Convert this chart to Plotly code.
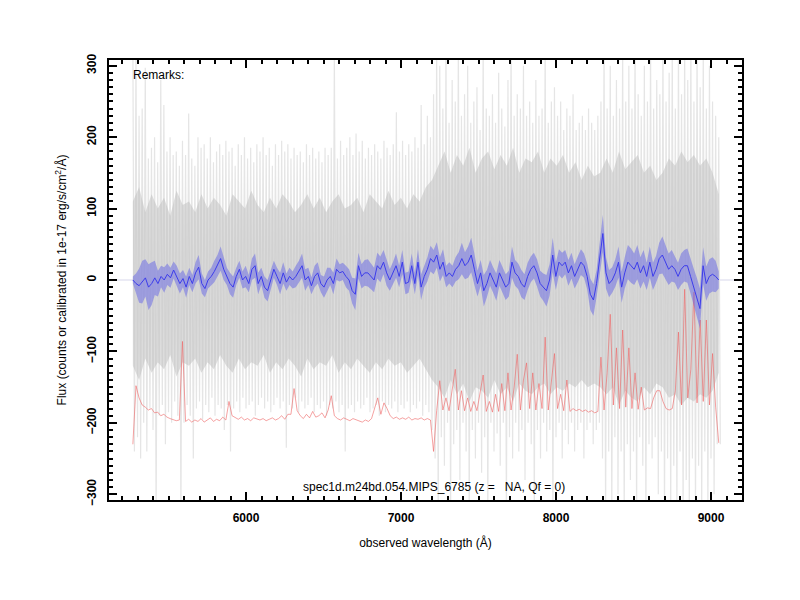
import numpy as np
import plotly.graph_objects as go

# smoothed spectrum (blue line) and its 1-sigma half width
blue_flux = [0, -5, -8, -3, 3, -10, -5, 3, -5, 5,
             0, 8, 3, 14, 5, -5, 2, -10, 5, -5,
             10, 18, -5, -12, 0, 5, 12, 20, 30, 15,
             5, -5, -10, 5, 15, 0, 5, -5, 15, 20,
             -5, 5, -10, -15, 0, 15, 5, -5, 10, -3,
             5, 0, 5, 12, 20, 0, 5, -8, 5, 10,
             -5,
             -10, 0, 5, -5, 15, 10, 12, 5, 0, -15,
             -20, 20, 5, 10, 10, 5, 0, 20, 15, 25,
             10, 0, 10, 20, 5, 25, -5, -3, 20, -5,
             25, -10, 5, 15, 30, 25, 35, 15, 25, 5,
             10, 5, 15, 20, 30, 20, 25, 35, 15, -5,
             10, -15, -5, 10, 0, -10, 10, 0, -10, -5,
             25, 10,
             5, -5, -10, 5, 15, 20, 10, -5, -10, -15,
             0, 35, 5, 25, 20, 25, 10, 20, 5, 15,
             25, 20, 5, -20, -28, -5, 30, 65, 10, -5,
             0, 10, 25, -10, 10, 25, 20, 15, 25, 10,
             20, 5, 25, 5, 15, 30, 35, 25, 15, 20,
             15, 5, 15, 20, 20, 5, -10, -25, -40, 20,
             -5, 5, 8, 5, 0]
blue_err = [5, 14, 24, 30, 26, 32, 30, 24, 18, 15,
            18, 15, 14, 12, 15, 14, 12, 15, 12, 12,
            15, 17, 14, 12, 12, 12, 15, 15, 17, 15,
            12, 15, 15, 12, 12, 12, 15, 12, 15, 17,
            15, 12, 15, 15, 12, 12, 12, 15, 15, 12,
            12, 12, 15, 15, 17, 15, 12, 12, 15, 15,
            12,
            15, 17, 12, 15, 15, 12, 12, 15, 15, 18,
            22, 18, 17, 18, 19, 18, 17, 18, 18, 17,
            18, 15, 15, 17, 15, 17, 15, 15, 17, 15,
            18, 18, 15, 17, 18, 17, 18, 17, 18, 15,
            15, 15, 17, 19, 22, 19, 22, 24, 22, 18,
            18, 22, 19, 18, 18, 19, 18, 17, 18, 18,
            22, 18,
            18, 19, 18, 19, 18, 18, 19, 18, 19, 22,
            22, 24, 19, 18, 18, 17, 18, 18, 17, 18,
            18, 17, 18, 22, 22, 19, 22, 26, 22, 19,
            18, 19, 22, 22, 22, 24, 24, 22, 24, 22,
            22, 19, 22, 19, 19, 22, 26, 24, 22, 22,
            19, 19, 22, 22, 24, 24, 26, 28, 28, 26,
            24, 24, 24, 22, 12]

# flux outside the observed range (flat zero)
edge_wave = [5125, 5270, None, 9050, 9195]
edge_flux = [0, 0, None, 0, 0]

# offset error / sky spectrum (red)
red_flux = [-230, -148, -165, -175, -178, -182, -180, -186, -185, -190,
            -188, -192, -194, -196, -197, -196, -86, -198, -195, -199,
            -196, -198, -194, -199, -196, -193, -198, -195, -197, -192,
            -196, -170, -190, -193, -195, -192, -196, -194, -197, -193,
            -195, -196, -194, -197, -195, -193, -196, -194, -190, -195,
            -188, -188, -152, -183, -190, -194, -188, -193, -184, -192,
            -190, -186, -193, -182, -162, -190, -194, -196, -193, -195,
            -197, -194, -196, -198, -199, -196, -198, -194, -180, -165,
            -188, -172, -180, -190, -194, -192, -195, -193, -195, -192,
            -196, -194, -195, -193, -196, -194, -196, -240, -183, -141,
            -182, -165, -183, -150, -125, -182, -155, -183, -165, -184,
            -170, -183, -155, -133, -184, -170, -185, -160, -184, -145,
            -183, -130, -182, -150, -104, -182, -140, -116, -180, -130,
            -182, -145, -180, -80, -182, -140, -103, -180, -160, -183,
            -140, -184, -180, -183, -181, -184, -182, -185, -183, -186,
            -184, -108, -182, -130, -48, -175, -95, -180, -70, -178,
            -95, -180, -130, -181, -150, -182, -179, -180, -165, -155,
            -155, -170, -180, -182, -180, -155, -73, -175, -13, -165,
            -125, -17, -172, -56, -170, -56, -175, -103, -178, -228]

# raw spectrum (gray): upper and lower excursions
gray_top = [330, 320, 230, 240, 297, 170, 185, 200, 165, 280,
            245, 180, 200, 175, 180, 160, 195, 175, 233, 170,
            160, 200, 185, 190, 170, 200, 165, 180, 190, 175,
            195, 180, 185, 160, 190, 175, 200, 170, 185, 165,
            190, 180, 200, 175, 185, 160, 190, 175, 195, 180,
            190, 170, 185, 175, 180, 165, 190, 175, 185, 170,
            180, 165, 185, 175, 185, 320, 170, 195, 175, 185,
            200, 175, 205, 180, 195, 170, 185, 175, 190, 180,
            170, 195, 185, 175, 190, 235, 180, 195, 175, 190,
            180, 200, 185, 245, 190, 230, 200,
            260, 330, 300, 240, 330, 220, 280, 250, 330, 230,
            260, 300, 220, 250, 270, 210, 330, 240, 230, 260,
            220, 290, 240, 215, 280, 330, 230, 260, 240, 300,
            230, 250, 220, 280, 230, 240, 330, 220, 250, 270,
            230, 250, 210, 240, 230, 260, 210, 220, 230, 210,
            240, 220, 210, 230,
            250, 330, 240, 300, 230, 280, 240, 330, 250, 300,
            240, 330, 260, 230, 300, 250, 330, 240, 280, 260,
            330, 250, 290, 330, 240, 330, 260, 330, 280, 330,
            250, 330, 270, 320, 240, 300, 250, 230, 200]
gray_bot = [-240, -220, -250, -200, -240, -180, -210, -330, -190, -175,
            -230, -185, -200, -170, -190, -330, -200, -175, -190, -250,
            -180, -170, -195, -175, -185, -165, -190, -175, -180, -210,
            -175, -240, -180, -170, -185, -165, -180, -175, -170, -190,
            -175, -165, -180, -170, -185, -175, -165, -180, -170, -235,
            -175, -180, -165, -185, -170, -180, -175, -165, -185, -175,
            -180, -170, -190, -175, -180, -170, -185, -175, -240, -180,
            -175, -185, -170, -180, -175, -165, -185, -180, -175, -190,
            -170, -185, -175, -180, -170, -185, -175, -180, -170, -185,
            -175, -180, -170, -190, -175, -185, -210,
            -250, -330, -220, -260, -200, -330, -230, -210, -280, -200,
            -240, -330, -210, -250, -200, -270, -220, -330, -200, -240,
            -215, -260, -200, -330, -220, -250, -200, -240, -210, -280,
            -200, -230, -330, -210, -250, -200, -240, -210, -330, -220,
            -200, -250, -210, -230, -200, -240, -210, -200, -250, -210,
            -200, -230, -210, -200,
            -250, -330, -240, -330, -220, -300, -240, -330, -230, -280,
            -240, -330, -220, -260, -330, -230, -250, -220, -300, -240,
            -330, -250, -330, -260, -330, -240, -330, -280, -330, -250,
            -330, -260, -330, -240, -330, -250, -300, -230, -230]

# dense part of the raw spectrum (darker gray)
core_top = [110, 130, 95, 120, 100, 115, 90, 125, 105, 110,
            95, 120, 100, 115, 105, 90, 120, 110, 100, 125,
            105, 95, 115, 100, 120, 110, 95, 105, 120, 100,
            115, 95, 110, 120, 100, 105, 115, 95, 120, 110,
            100, 125, 105, 115, 100, 120, 110, 130, 140,
            160, 180, 150, 175, 160, 185, 150, 170, 180, 155,
            175, 160, 185, 150, 170, 165, 180, 150, 170, 160,
            175, 150, 165, 140, 160, 145, 150,
            170, 150, 180, 155, 165, 175, 150, 160, 140, 150,
            170, 160, 180, 165, 175, 160, 170, 150, 120]
core_bot = [-120, -140, -110, -130, -115, -125, -105, -135, -115, -120,
            -110, -130, -115, -125, -105, -120, -130, -110, -125, -115,
            -120, -105, -130, -115, -125, -110, -120, -135, -110, -125,
            -115, -120, -105, -130, -115, -125, -110, -120, -130, -115,
            -125, -110, -120, -115, -130, -120, -110, -125, -140,
            -150, -165, -140, -160, -145, -170, -150, -155, -165, -140,
            -160, -150, -170, -145, -155, -160, -150, -145, -160, -150,
            -155, -145, -150, -140, -150, -145, -150,
            -160, -150, -175, -155, -165, -170, -150, -160, -145, -150,
            -165, -160, -175, -165, -170, -160, -165, -155, -130]

wave_blue = np.linspace(5270, 9050, len(blue_flux))
wave_red = np.linspace(5270, 9050, len(red_flux))
wave_gray = np.linspace(5270, 9050, len(gray_top))
wave_core = np.linspace(5270, 9050, len(core_top))

# zigzag between the upper and lower excursion of the raw spectrum
spike_x = np.empty(2 * len(wave_gray))
spike_x[0::2] = wave_gray
spike_x[1::2] = wave_gray + 10
spike_y = np.empty(2 * len(wave_gray))
spike_y[0::2] = gray_top
spike_y[1::2] = gray_bot

blue = np.array(blue_flux)
err = np.array(blue_err)

fig = go.Figure()
fig.add_trace(go.Scatter(x=edge_wave, y=edge_flux, mode="lines",
                         line=dict(color="rgb(215,215,235)", width=1)))
fig.add_trace(go.Scatter(x=spike_x, y=spike_y, mode="lines",
                         line=dict(color="rgb(229,229,229)", width=1.2)))
fig.add_trace(go.Scatter(x=np.concatenate([wave_core, wave_core[::-1]]),
                         y=np.concatenate([core_top, core_bot[::-1]]),
                         mode="lines", fill="toself", fillcolor="rgba(190,190,190,0.5)",
                         line=dict(width=0)))
fig.add_trace(go.Scatter(x=wave_red, y=red_flux, mode="lines",
                         line=dict(color="rgba(238,100,100,0.6)", width=1)))
fig.add_trace(go.Scatter(x=wave_blue, y=blue - err, mode="lines",
                         line=dict(width=0)))
fig.add_trace(go.Scatter(x=wave_blue, y=blue + err, mode="lines", fill="tonexty",
                         fillcolor="rgba(100,100,230,0.5)", line=dict(width=0)))
fig.add_trace(go.Scatter(x=wave_blue, y=blue, mode="lines",
                         line=dict(color="rgb(60,60,235)", width=1)))

tickfont = dict(family="Liberation Sans, Arial", size=12, color="black", weight="bold")
axis_common = dict(showgrid=False, zeroline=False, showline=True, linewidth=2,
                   linecolor="black", mirror="ticks", ticks="inside", ticklen=8,
                   tickwidth=1.5, tickcolor="black", tickfont=tickfont,
                   ticklabelstandoff=6, automargin=False)

fig.update_xaxes(range=[5116, 9200], dtick=1000,
                 minor=dict(dtick=100, ticks="inside", ticklen=4, tickcolor="black"),
                 title=dict(text="observed wavelength (Å)", standoff=14,
                            font=dict(size=12, color="black")),
                 **axis_common)
fig.update_yaxes(range=[-308, 308], dtick=100, tickangle=-90,
                 minor=dict(dtick=10, ticks="inside", ticklen=4, tickcolor="black"),
                 title=dict(text="Flux (counts or calibrated in 1e-17 erg/s/cm<sup>2</sup>/Å)",
                            standoff=16, font=dict(size=12, color="black")),
                 **axis_common)

fig.add_annotation(text="Remarks:", xref="paper", yref="paper", x=0.035, y=0.967,
                   xanchor="left", yanchor="middle", showarrow=False,
                   font=dict(size=12, color="black"))
fig.add_annotation(text="spec1d.m24bd.054.MIPS_6785 (z =\u00a0\u00a0 NA, Qf = 0)",
                   xref="paper", yref="paper", x=0.513, y=0.03,
                   xanchor="center", yanchor="middle", showarrow=False,
                   font=dict(size=12, color="black"))

fig.update_layout(width=800, height=600, showlegend=False,
                  margin=dict(l=101, r=66, t=52, b=108),
                  paper_bgcolor="white", plot_bgcolor="white",
                  font=dict(family="Liberation Sans, Arial", color="black"))

fig.write_html("out.html")
